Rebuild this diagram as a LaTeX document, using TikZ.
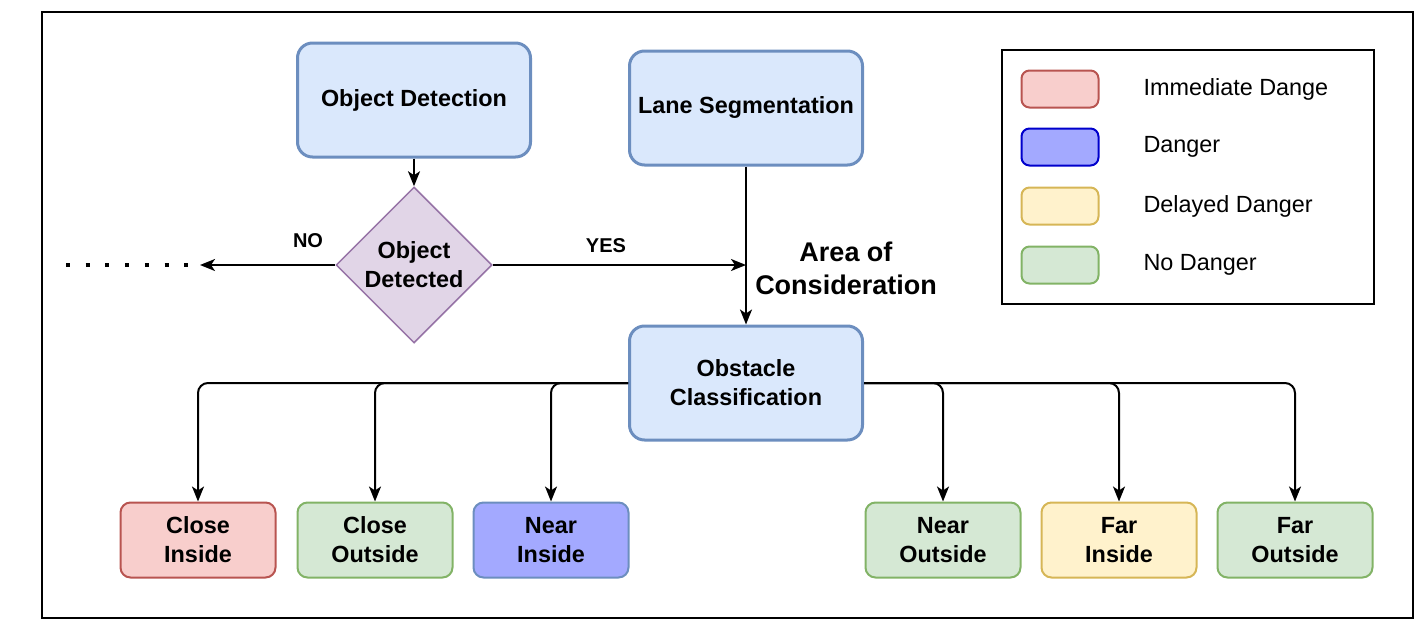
\documentclass[tikz,border=0pt]{standalone}
\usepackage{fontspec}
\setmainfont{Liberation Sans}
\usetikzlibrary{positioning, arrows.meta, shapes.geometric}
\usepackage{xcolor}

\definecolor{blueFill}{HTML}{DAE8FC}
\definecolor{blueLine}{HTML}{6C8EBF}
\definecolor{redFill}{HTML}{F8CECC}
\definecolor{redLine}{HTML}{B85450}
\definecolor{greenFill}{HTML}{D5E8D4}
\definecolor{greenLine}{HTML}{82B366}
\definecolor{yellowFill}{HTML}{FFF2CC}
\definecolor{yellowLine}{HTML}{D6B656}
\definecolor{purpleFill}{HTML}{E1D5E7}
\definecolor{purpleLine}{HTML}{9673A6}
\definecolor{dangerFill}{HTML}{A3A9FF}
\definecolor{dangerLine}{HTML}{0000CC}

\newcommand{\boxfont}{\fontsize{23.4}{29}\selectfont}
\newcommand{\labelfont}{\fontsize{20}{24}\selectfont}
\newcommand{\areafont}{\fontsize{27}{33}\selectfont}

\tikzset{
    stage/.style={draw=blueLine, fill=blueFill, line width=3pt, rounded corners=15pt,
        minimum width=233pt, minimum height=114pt, inner sep=0pt, align=center,
        font=\boxfont\bfseries},
    result/.style={rounded corners=10pt, line width=2pt, minimum width=155pt,
        minimum height=75pt, inner sep=0pt, align=center, font=\boxfont\bfseries},
    swatch/.style={rounded corners=8pt, line width=2pt, minimum width=77pt,
        minimum height=37pt, inner sep=0pt},
    legendtext/.style={anchor=west, font=\boxfont},
    flow/.style={-{Stealth[length=15pt, width=12pt, inset=4pt]}, line width=2pt,
        rounded corners=10pt},
}

\begin{document}
\begin{tikzpicture}[x=1pt, y=-1pt]
    \useasboundingbox (0,0) rectangle (1424,629);
    \draw[line width=2pt] (42,12) rectangle (1413,618);

    % pipeline
    \node[stage] (od) at (414,100) {Object Detection};
    \node[stage] (ls) at (746,108) {Lane Segmentation};
    \node[diamond, aspect=1, draw=purpleLine, fill=purpleFill, line width=1.5pt,
        minimum width=156pt, minimum height=156pt, inner sep=0pt, align=center,
        font=\boxfont\bfseries] (dd) at (414,265) {Object\\Detected};
    \node[stage] (oc) at (746,383) {Obstacle\\Classification};

    \coordinate (noEnd) at (200,265);
    \coordinate (yesEnd) at (746,265);
    \coordinate (dotStart) at (66,265);
    \coordinate (dotEnd) at (190,265);

    \draw[flow] (od) -- (dd);
    \draw[flow] (dd) -- (noEnd);
    \draw[flow] (dd) -- (yesEnd);
    \draw[flow] (ls) -- (oc);
    \draw[line width=4pt, dash pattern=on 4pt off 15.7pt] (dotStart) -- (dotEnd);

    \node[font=\labelfont\bfseries] (no) at (308,241) {NO};
    \node[font=\labelfont\bfseries] (yes) at (606,246) {YES};
    \node[font=\areafont\bfseries, align=center] (area) at (846,268) {Area of\\Consideration};

    % classes
    \node[result, draw=redLine, fill=redFill] (ci) at (198,540) {Close\\Inside};
    \node[result, draw=greenLine, fill=greenFill] (co) at (375,540) {Close\\Outside};
    \node[result, draw=blueLine, fill=dangerFill] (ni) at (551,540) {Near\\Inside};
    \node[result, draw=greenLine, fill=greenFill] (no2) at (943,540) {Near\\Outside};
    \node[result, draw=yellowLine, fill=yellowFill] (fi) at (1119,540) {Far\\Inside};
    \node[result, draw=greenLine, fill=greenFill] (fo) at (1295,540) {Far\\Outside};

    \draw[flow] (oc.west) -| (ci.north);
    \draw[flow] (oc.west) -| (co.north);
    \draw[flow] (oc.west) -| (ni.north);
    \draw[flow] (oc.east) -| (no2.north);
    \draw[flow] (oc.east) -| (fi.north);
    \draw[flow] (oc.east) -| (fo.north);

    % legend
    \draw[line width=2pt] (1002,50) rectangle (1374,304);
    \node[swatch, draw=redLine, fill=redFill] (s1) at (1060,89) {};
    \node[swatch, draw=dangerLine, fill=dangerFill] (s2) at (1060,147) {};
    \node[swatch, draw=yellowLine, fill=yellowFill] (s3) at (1060,206) {};
    \node[swatch, draw=greenLine, fill=greenFill] (s4) at (1060,265) {};
    \node[legendtext] (t1) at (1140,89) {Immediate Dange};
    \node[legendtext] (t2) at (1140,147) {Danger};
    \node[legendtext] (t3) at (1140,206) {Delayed Danger};
    \node[legendtext] (t4) at (1140,265) {No Danger};
\end{tikzpicture}
\end{document}
